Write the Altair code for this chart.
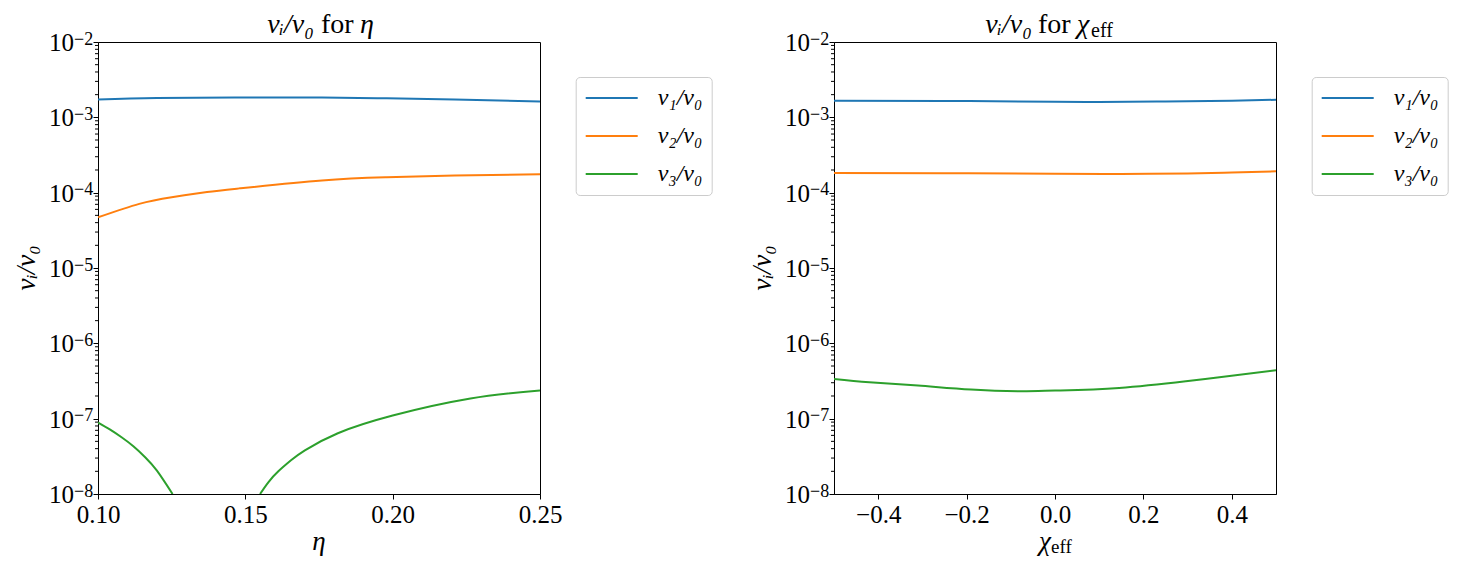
import altair as alt
import pandas as pd

FONT = "Liberation Serif, Times New Roman, Times, serif"
SERIES = ["ν₁/ν₀", "ν₂/ν₀", "ν₃/ν₀"]
COLORS = ["#1f77b4", "#ff7f0e", "#2ca02c"]

# ---- left panel (eta) ----
eta_nu1_x = [0.100, 0.120, 0.148, 0.176, 0.198, 0.221, 0.250]
eta_nu1_y = [1.72e-3, 1.80e-3, 1.84e-3, 1.83e-3, 1.79e-3, 1.72e-3, 1.62e-3]
eta_nu2_x = [0.100, 0.114, 0.125, 0.137, 0.148, 0.176, 0.198, 0.221, 0.250]
eta_nu2_y = [4.7e-5, 7.1e-5, 8.7e-5, 1.02e-4, 1.14e-4, 1.45e-4, 1.60e-4, 1.69e-4, 1.75e-4]
eta_nu3a_x = [0.100, 0.104, 0.108, 0.112, 0.116, 0.120, 0.1253]
eta_nu3a_y = [8.9e-8, 7.2e-8, 5.66e-8, 4.3e-8, 3.08e-8, 2.04e-8, 1.0e-8]
eta_nu3b_x = [0.155, 0.1578, 0.1612, 0.1655, 0.1702, 0.1814, 0.200, 0.2264, 0.250]
eta_nu3b_y = [1.0e-8, 1.43e-8, 2.0e-8, 2.8e-8, 3.8e-8, 6.4e-8, 1.1e-7, 1.85e-7, 2.37e-7]

# ---- right panel (chi_eff) ----
chi_nu1_x = [-0.5, -0.25, 0.0, 0.1, 0.25, 0.4, 0.5]
chi_nu1_y = [1.66e-3, 1.65e-3, 1.61e-3, 1.60e-3, 1.62e-3, 1.66e-3, 1.71e-3]
chi_nu2_x = [-0.5, -0.25, 0.0, 0.15, 0.3, 0.4, 0.5]
chi_nu2_y = [1.83e-4, 1.81e-4, 1.78e-4, 1.77e-4, 1.80e-4, 1.85e-4, 1.92e-4]
chi_nu3_x = [-0.5, -0.42, -0.31, -0.19, -0.08, 0.0, 0.145, 0.296, 0.372, 0.5]
chi_nu3_y = [3.37e-7, 3.05e-7, 2.75e-7, 2.43e-7, 2.31e-7, 2.36e-7, 2.56e-7, 3.14e-7, 3.55e-7, 4.4e-7]

# axis tick values / labels
DECADES = [1e-8, 1e-7, 1e-6, 1e-5, 1e-4, 1e-3, 1e-2]
EXPONENTS = ["−8", "−7", "−6", "−5", "−4", "−3", "−2"]
MINORS = [m * d for d in DECADES[:-1] for m in range(2, 10)]
ETA_TICKS = [0.10, 0.15, 0.20, 0.25]
CHI_TICKS = [-0.4, -0.2, 0.0, 0.2, 0.4]

W, H = 442, 452


def long(parts):
    rows = []
    for series, seg, xs, ys in parts:
        for x, y in zip(xs, ys):
            rows.append(dict(x=x, y=y, series=series, seg=seg))
    return pd.DataFrame(rows)


df_eta = long([
    (SERIES[0], "a", eta_nu1_x, eta_nu1_y),
    (SERIES[1], "a", eta_nu2_x, eta_nu2_y),
    (SERIES[2], "a", eta_nu3a_x, eta_nu3a_y),
    (SERIES[2], "b", eta_nu3b_x, eta_nu3b_y),
])
df_chi = long([
    (SERIES[0], "a", chi_nu1_x, chi_nu1_y),
    (SERIES[1], "a", chi_nu2_x, chi_nu2_y),
    (SERIES[2], "a", chi_nu3_x, chi_nu3_y),
])

yscale = alt.Scale(type="log", domain=[1e-8, 1e-2], nice=False)
yaxis = alt.Axis(values=DECADES, labels=False, tickSize=5, title=None, grid=False)


def txt(text, x, y, size=26, style="normal", align="left", baseline="alphabetic", angle=0):
    return alt.Chart(pd.DataFrame({"t": [text]})).mark_text(
        font=FONT, fontSize=size, fontStyle=style, align=align, baseline=baseline,
        angle=angle, color="black"
    ).encode(x=alt.value(x), y=alt.value(y), text="t:N")


def panel(df, xdom, xvals, xfmt, extra):
    lines = alt.Chart(df).mark_line(strokeWidth=2, clip=True, interpolate="natural").encode(
        x=alt.X("x:Q", scale=alt.Scale(domain=xdom, nice=False, zero=False),
                axis=alt.Axis(values=xvals, format=xfmt, title=None, labelFlush=False,
                              labelOverlap=False, tickSize=5, labelPadding=3, grid=False)),
        y=alt.Y("y:Q", scale=yscale, axis=yaxis),
        color=alt.Color("series:N", scale=alt.Scale(domain=SERIES, range=COLORS),
                        legend=alt.Legend(title=None, orient="none", legendX=477.7, legendY=35,
                                          symbolType="M-1.1,0H4.1", symbolSize=400,
                                          symbolStrokeWidth=2, symbolOpacity=1,
                                          labelFont=FONT, labelFontSize=24, labelFontStyle="italic",
                                          labelColor="black", labelOffset=49, rowPadding=14,
                                          padding=9, strokeColor="#cccccc", fillColor="white",
                                          cornerRadius=4, labelLimit=300)),
        detail="seg:N",
    )
    dec = pd.DataFrame({"v": DECADES, "e": EXPONENTS})
    base_lbl = alt.Chart(dec).mark_text(font=FONT, fontSize=25, align="right",
                                        baseline="alphabetic", dy=9, color="black").encode(
        y=alt.Y("v:Q", scale=yscale, axis=yaxis), x=alt.value(-24), text=alt.value("10"))
    exp_lbl = alt.Chart(dec).mark_text(font=FONT, fontSize=18, align="left",
                                       baseline="alphabetic", dy=2.5, color="black").encode(
        y=alt.Y("v:Q", scale=yscale, axis=yaxis), x=alt.value(-24), text="e:N")
    minor = alt.Chart(pd.DataFrame({"v": MINORS})).mark_rule(color="black", strokeWidth=1).encode(
        y=alt.Y("v:Q", scale=yscale, axis=yaxis), x=alt.value(0), x2=alt.value(-3))
    ytitle = txt("νᵢ/ν₀", -71, H / 2, size=27, style="italic", align="center",
                 baseline="middle", angle=270)
    return alt.layer(lines, minor, base_lbl, exp_lbl, ytitle, *extra).properties(width=W, height=H)


left_extra = [
    txt("νᵢ/ν₀", 216, -9, size=28, style="italic", align="right"),
    txt("for", 223, -9, size=28),
    txt("η", 262, -9, size=28, style="italic"),
    txt("η", W / 2, 508, size=27, style="italic", align="center"),
]
right_extra = [
    txt("νᵢ/ν₀", 198, -9, size=28, style="italic", align="right"),
    txt("for", 204, -9, size=28),
    txt("χ", 243, -9, size=28, style="italic"),
    txt("eff", 257, -5, size=20),
    txt("χ", 217, 508, size=27, style="italic", align="right"),
    txt("eff", 217, 511, size=19),
]

p1 = panel(df_eta, [0.10, 0.25], ETA_TICKS, ".2f", left_extra)
p2 = panel(df_chi, [-0.5, 0.5], CHI_TICKS, ".1f", right_extra)

chart = alt.hconcat(p1, p2, spacing=35).resolve_legend(color="independent").configure_view(
    stroke="black", strokeWidth=1
).configure_axis(
    domainColor="black", tickColor="black", labelColor="black", labelFont=FONT,
    labelFontSize=25, tickWidth=1, domainWidth=1
).properties(padding={"left": 4, "top": 2, "right": 0, "bottom": 0})

chart.save("out.html", embed_options={"renderer": "svg", "actions": False})
